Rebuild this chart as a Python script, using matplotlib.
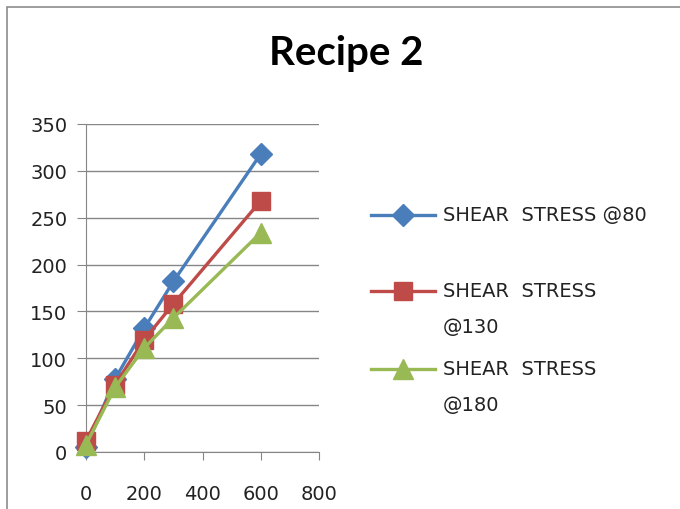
import matplotlib
matplotlib.use("Agg")
import matplotlib.pyplot as plt
from matplotlib.lines import Line2D
from matplotlib.patches import Rectangle

x = [0, 100, 200, 300, 600]
stress_80 = [5, 78, 132, 182, 318]
stress_130 = [12, 72, 120, 158, 268]
stress_180 = [8, 69, 111, 143, 234]

series = [
    (stress_80, "#4A7EBB", "D", 11, ["SHEAR  STRESS @80"]),
    (stress_130, "#BE4B48", "s", 13, ["SHEAR  STRESS", "@130"]),
    (stress_180, "#98B954", "^", 14, ["SHEAR  STRESS", "@180"]),
]

fig = plt.figure(figsize=(6.8, 5.1), dpi=100)
fig.add_artist(Rectangle((7 / 680, -0.1), 1.2, 1.1 - 8 / 510, transform=fig.transFigure,
                         fill=False, edgecolor="#8c8c8c", linewidth=1.2))

ax = fig.add_axes([86 / 680, 1 - 453 / 510, (319 - 86) / 680, (453 - 125) / 510])

for vals, col, mk, ms, lab in series:
    ax.plot(x, vals, color=col, linewidth=2.4, marker=mk, markersize=ms,
            markeredgecolor=col, markerfacecolor=col, clip_on=False, zorder=3)

ax.set_xlim(0, 800)
ax.set_ylim(0, 350)
ax.set_xticks(range(0, 801, 200))
ax.set_yticks(range(0, 351, 50))
ax.grid(axis="y", color="#868686", linewidth=1)
ax.set_axisbelow(True)
for s in ["top", "right"]:
    ax.spines[s].set_visible(False)
for s in ["left", "bottom"]:
    ax.spines[s].set_color("#868686")
ax.tick_params(direction="out", length=6.5, color="#868686", labelsize=14,
               labelcolor="#222222")
ax.tick_params(axis="y", pad=7)
ax.tick_params(axis="x", length=6, pad=17)

fig.text(346 / 680, 1 - 65 / 510, "Recipe 2", ha="center", va="baseline",
         fontsize=29, fontweight="bold", family="Lato")

# legend drawn by hand to keep the marker on the first text line
leg_y = [216, 292, 370]
for (vals, col, mk, ms, lab), yy in zip(series, leg_y):
    fy = 1 - yy / 510
    fig.add_artist(Line2D([371 / 680, 435 / 680], [fy, fy], transform=fig.transFigure,
                          color=col, linewidth=2.4))
    fig.add_artist(Line2D([403 / 680], [fy], transform=fig.transFigure, color=col,
                          marker=mk, markersize=ms, markeredgecolor=col))
    for i, line in enumerate(lab):
        fig.text(443 / 680, 1 - (yy + i * 36) / 510, line, ha="left", va="center",
                 fontsize=14, color="#222222")

fig.savefig("out.png", dpi=100)
